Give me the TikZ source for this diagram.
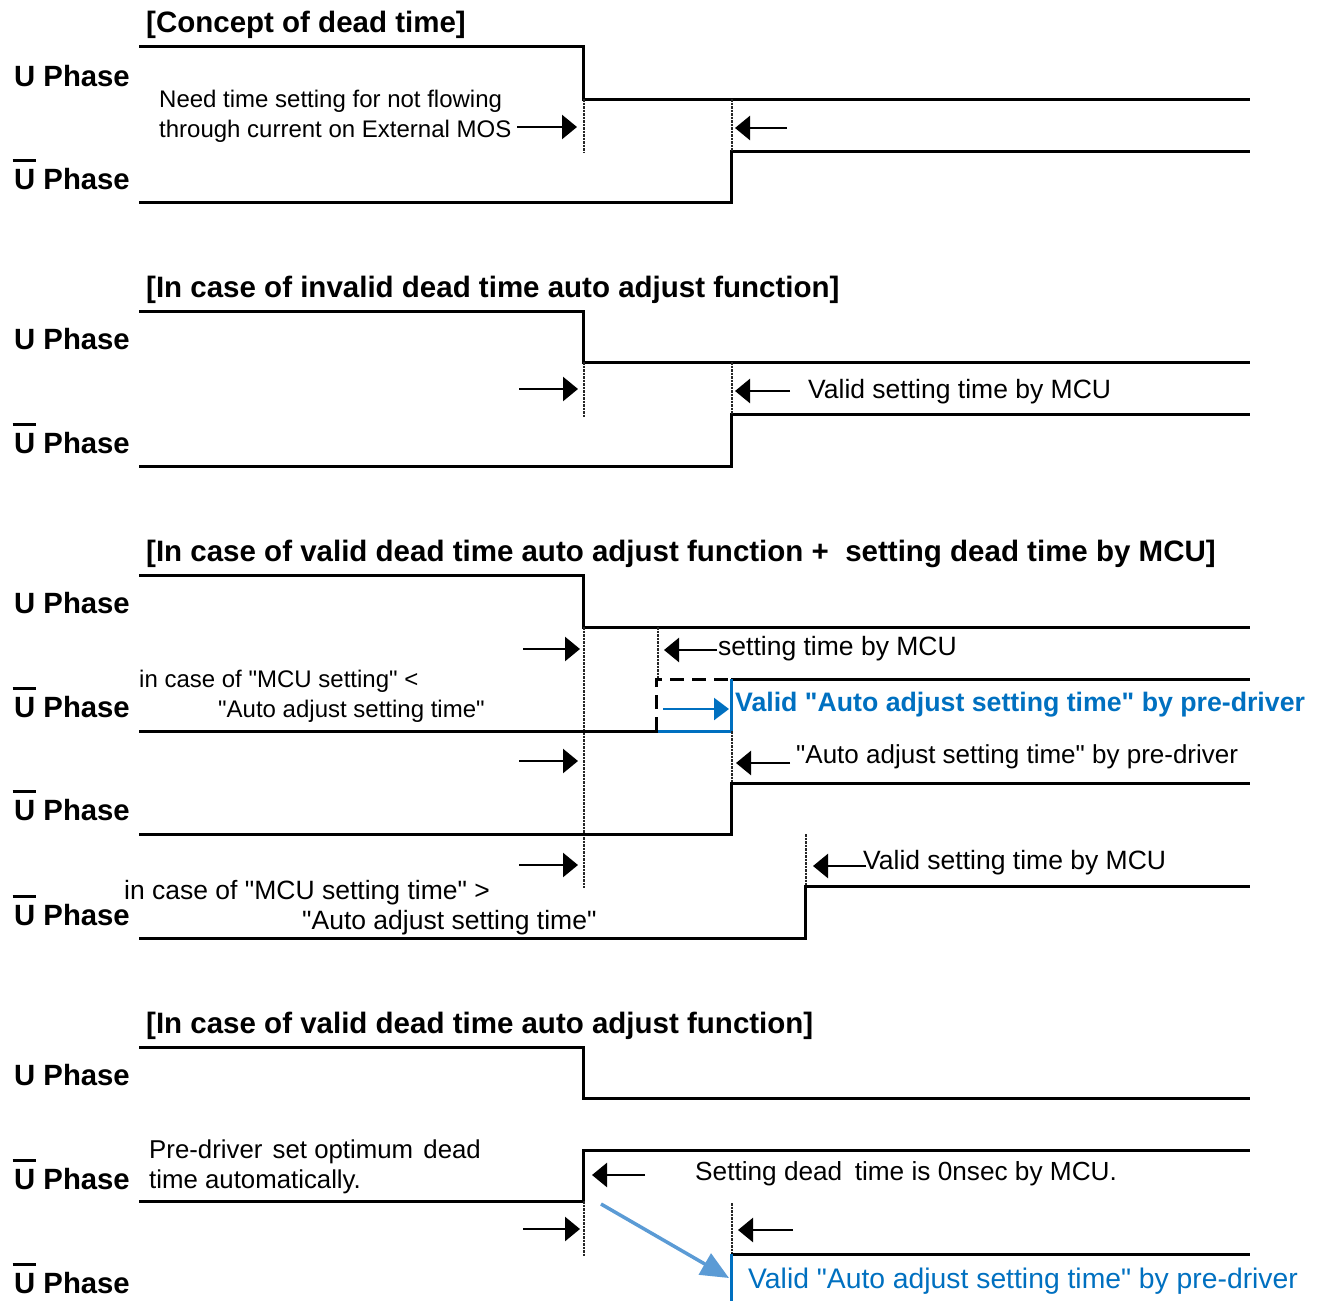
\documentclass[tikz,border=0pt]{standalone}
\usepackage{fontspec}
\setmainfont{Liberation Sans}
\usetikzlibrary{arrows.meta}
\definecolor{drvblue}{HTML}{0070C0}
\definecolor{hintblue}{HTML}{5B9BD5}
% U with a bar over it (inverted phase)
\newcommand\ubar{\leavevmode\rlap{\hspace{-0.05em}\raisebox{0.93em}{\rule{0.78em}{0.1em}}}U}
% straight double quote
\newcommand\dq{\textquotedbl}

\tikzset{
  wave/.style={line width=3pt, line join=miter},
  guide/.style={line width=2.2pt, black!85, dash pattern=on 2.5pt off 1pt},
  marker/.style={line width=2.5pt, -{Triangle[length=15pt,width=24pt]}},
  phase/.style={anchor=base west, inner sep=0pt, font=\fontsize{29.3}{31}\selectfont\bfseries},
  heading/.style={anchor=base west, inner sep=0pt, font=\fontsize{29.5}{31}\selectfont\bfseries},
  note/.style={anchor=base west, inner sep=0pt, font=\fontsize{26.5}{28}\selectfont},
  smallnote/.style={anchor=base west, inner sep=0pt, font=\fontsize{24}{26}\selectfont},
}

\begin{document}
\begin{tikzpicture}[x=1pt,y=-1pt]
\useasboundingbox (0,0) rectangle (1317,1301);

%% ---------------- Concept of dead time ----------------
\node[heading] (t1) at (146,32) {[Concept of dead time]};
\node[phase] (p1u) at (14,86) {U Phase};
\node[phase] (p1b) at (14,189) {\ubar\ Phase};
\draw[wave] (139,46) -- (583,46) -- (583,99) -- (1250,99);
\draw[wave] (139,202) -- (731,202) -- (731,151) -- (1250,151);
\draw[guide] (584,99) -- (584,153);
\draw[guide] (732,99) -- (732,151);
\draw[marker] (517,127) -- (577,127);
\draw[marker] (787,128) -- (735,128);
\node[smallnote] (n1a) at (159,107) {Need time setting for not flowing};
\node[smallnote] (n1b) at (159,137) {through current on External MOS};

%% ---------------- Invalid auto adjust ----------------
\node[heading] (t2) at (146,297) {[In case of invalid dead time auto adjust function]};
\node[phase] (p2u) at (14,349) {U Phase};
\node[phase] (p2b) at (14,453) {\ubar\ Phase};
\draw[wave] (139,311) -- (583,311) -- (583,362) -- (1250,362);
\draw[wave] (139,466) -- (731,466) -- (731,414) -- (1250,414);
\draw[guide] (584,362) -- (584,418);
\draw[guide] (732,362) -- (732,414);
\draw[marker] (519,389) -- (578,389);
\draw[marker] (790,391) -- (735,391);
\node[note] (n2) at (808,398) {Valid setting time by MCU};

%% ---------------- Valid auto adjust + MCU setting ----------------
\node[heading] (t3) at (146,561) {[In case of valid dead time auto adjust function +\ \ setting dead time by MCU]};
\node[phase] (p3u) at (14,613) {U Phase};
\node[phase] (p3a) at (14,717) {\ubar\ Phase};
\node[phase] (p3b) at (14,820) {\ubar\ Phase};
\node[phase] (p3c) at (14,925) {\ubar\ Phase};
\draw[wave] (139,575) -- (583,575) -- (583,627) -- (1250,627);
\draw[guide] (584,627) -- (584,888);
\draw[guide] (658,627) -- (658,679);
\draw[marker] (523,649) -- (580,649);
\draw[marker] (717,650) -- (664,650);
\node[note] (n3a) at (718,655) {setting time by MCU};

% MCU setting shorter than the automatic one
\draw[wave] (139,731) -- (658,731);
\draw[line width=3pt, dash pattern=on 14pt off 8pt] (656,731) -- (656,679) -- (731,679);
\draw[wave] (731,679) -- (1250,679);
\draw[wave, drvblue] (658,731) -- (731,731) -- (731,679);
\draw[line width=2.5pt, drvblue, -{Triangle[length=15pt,width=22pt]}] (663,709) -- (729,709);
\node[anchor=base west, inner sep=0pt, font=\fontsize{26.7}{28}\selectfont\bfseries, text=drvblue] (n3b) at (735,711) {Valid \dq Auto adjust setting time\dq\ by pre-driver};
\node[smallnote] (n3c) at (139,687) {in case of \dq MCU setting\dq\ <};
\node[smallnote] (n3d) at (218,717) {\dq Auto adjust setting time\dq};

% automatic setting
\draw[marker] (519,761) -- (578,761);
\draw[guide] (732,731) -- (732,783);
\draw[marker] (790,763) -- (736,763);
\node[note, font=\fontsize{26}{28}\selectfont] (n3e) at (796,763) {\dq Auto adjust setting time\dq\ by pre-driver};
\draw[wave] (139,834) -- (731,834) -- (731,783) -- (1250,783);

% MCU setting longer than the automatic one
\draw[marker] (519,865) -- (578,865);
\draw[guide] (806,834) -- (806,886);
\draw[marker] (866,866) -- (813,866);
\node[note] (n3f) at (863,869) {Valid setting time by MCU};
\draw[wave] (139,938) -- (805,938) -- (805,886) -- (1250,886);
\node[note] (n3g) at (124,899) {in case of \dq MCU setting time\dq\ >};
\node[note] (n3h) at (302,929) {\dq Auto adjust setting time\dq};

%% ---------------- Valid auto adjust ----------------
\node[heading] (t4) at (146,1033) {[In case of valid dead time auto adjust function]};
\node[phase] (p4u) at (14,1085) {U Phase};
\node[phase] (p4a) at (14,1189) {\ubar\ Phase};
\node[phase] (p4b) at (14,1293) {\ubar\ Phase};
\draw[wave] (139,1047) -- (583,1047) -- (583,1098) -- (1250,1098);
\draw[wave] (139,1201) -- (583,1201) -- (583,1150) -- (1250,1150);
\node[note, font=\fontsize{25.8}{28}\selectfont] (n4a) at (149,1158) {Pre-driver\hspace{0.12em} set optimum\hspace{0.12em} dead};
\node[note, font=\fontsize{25.8}{28}\selectfont] (n4b) at (149,1188) {time automatically.};
\draw[marker] (645,1175) -- (592,1175);
\node[note, font=\fontsize{26.2}{28}\selectfont] (n4c) at (695,1180) {Setting dead\hspace{0.2em} time is 0nsec by MCU.};
\draw[guide] (584,1201) -- (584,1256);
\draw[marker] (523,1229) -- (580,1229);
\draw[guide] (732,1203) -- (732,1254);
\draw[marker] (793,1230) -- (738,1230);
\draw[wave] (731,1254) -- (1250,1254);
\draw[wave, drvblue] (731,1254) -- (731,1301);
\draw[line width=3.5pt, hintblue, -{Triangle[length=28pt,width=24pt]}] (601,1204) -- (729,1278);
\node[anchor=base west, inner sep=0pt, font=\fontsize{28.3}{30}\selectfont, text=drvblue] (n4d) at (748,1288) {Valid \dq Auto adjust setting time\dq\ by pre-driver};
\end{tikzpicture}
\end{document}
